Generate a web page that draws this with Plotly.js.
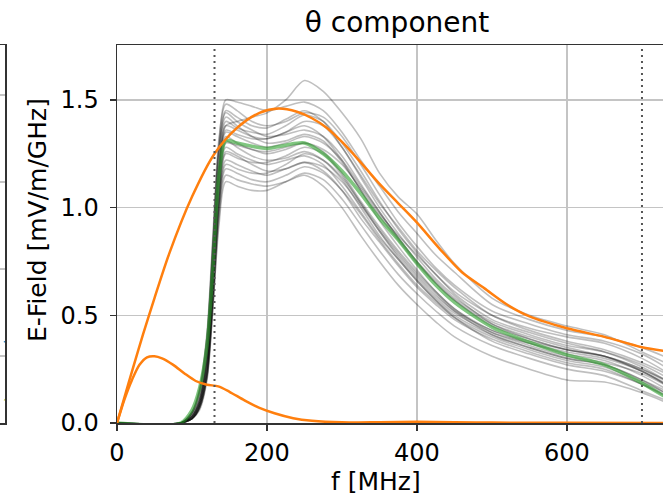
<!DOCTYPE html>
<html>
<head>
<meta charset="utf-8">
<script src="https://cdn.plot.ly/plotly-3.0.1.min.js"></script>
<style>
html, body { margin: 0; padding: 0; overflow: hidden; background: #fff; }
#chart { width: 700px; height: 500px; }
</style>
</head>
<body>
<div id="chart"></div>
<script>
// Frequency grid (MHz) for the individual spectra and their mean
const freqGrid = [0, 85, 100, 110, 120, 128, 136, 145, 160, 180, 200, 225, 250, 275, 300, 325, 350, 375, 400, 425, 450, 500, 550, 600, 650, 700, 750];

// Individual E-field spectra (gray)
const g01 = [0,0,0.05,0.15,0.40,0.85,1.30, 1.50,1.49,1.47,1.45,1.47,1.49,1.45,1.35,1.22,1.10,0.98,0.88,0.78,0.70,0.55,0.48,0.43,0.40,0.35,0.28];
const g02 = [0,0,0.03,0.10,0.30,0.70,1.15, 1.38,1.40,1.42,1.44,1.50,1.59,1.54,1.44,1.32,1.16,1.05,0.97,0.85,0.74,0.58,0.50,0.45,0.41,0.33,0.25];
const g03 = [0,0,0.04,0.12,0.35,0.80,1.25, 1.45,1.42,1.38,1.37,1.41,1.45,1.40,1.28,1.15,1.02,0.91,0.80,0.71,0.63,0.50,0.43,0.38,0.34,0.28,0.20];
const g04 = [0,0,0.03,0.10,0.30,0.72,1.18, 1.38,1.36,1.33,1.32,1.35,1.38,1.33,1.22,1.08,0.96,0.85,0.74,0.65,0.57,0.46,0.40,0.35,0.31,0.24,0.15];
const g05 = [0,0,0.02,0.08,0.25,0.65,1.10, 1.33,1.30,1.27,1.26,1.28,1.30,1.26,1.16,1.03,0.91,0.80,0.70,0.61,0.53,0.43,0.37,0.32,0.29,0.22,0.12];
const g06 = [0,0,0.02,0.07,0.22,0.60,1.05, 1.28,1.25,1.22,1.20,1.22,1.24,1.20,1.10,0.98,0.86,0.76,0.66,0.57,0.50,0.41,0.35,0.30,0.27,0.20,0.10];
const g07 = [0,0,0.03,0.09,0.27,0.62,1.02, 1.22,1.20,1.17,1.15,1.18,1.21,1.17,1.08,0.95,0.84,0.73,0.63,0.55,0.48,0.39,0.33,0.28,0.25,0.18,0.09];
const g08 = [0,0,0.02,0.07,0.22,0.55,0.92, 1.12,1.10,1.08,1.08,1.12,1.16,1.13,1.04,0.92,0.80,0.69,0.60,0.52,0.45,0.36,0.30,0.25,0.22,0.15,0.08];
const g09 = [0,0,0.04,0.12,0.33,0.76,1.18, 1.35,1.33,1.30,1.28,1.30,1.33,1.30,1.22,1.10,0.98,0.86,0.75,0.66,0.58,0.47,0.41,0.36,0.33,0.27,0.18];
const g10 = [0,0,0.05,0.14,0.38,0.82,1.26, 1.42,1.38,1.33,1.30,1.31,1.34,1.31,1.21,1.08,0.94,0.82,0.71,0.61,0.53,0.42,0.36,0.31,0.28,0.23,0.14];
const g11 = [0,0,0.03,0.09,0.28,0.68,1.10, 1.30,1.29,1.27,1.25,1.27,1.30,1.27,1.20,1.09,0.97,0.87,0.78,0.69,0.60,0.48,0.42,0.37,0.33,0.26,0.16];
const g12 = [0,0,0.02,0.08,0.24,0.60,1.02, 1.25,1.23,1.21,1.21,1.24,1.28,1.25,1.15,1.02,0.89,0.77,0.67,0.58,0.51,0.42,0.37,0.33,0.30,0.24,0.14];
const g13 = [0,0,0.05,0.16,0.42,0.88,1.32, 1.48,1.45,1.40,1.38,1.40,1.44,1.42,1.33,1.20,1.06,0.93,0.82,0.72,0.64,0.52,0.46,0.41,0.38,0.32,0.22];
const g14 = [0,0,0.02,0.07,0.21,0.56,0.98, 1.18,1.16,1.13,1.12,1.15,1.19,1.16,1.08,0.97,0.85,0.74,0.64,0.56,0.49,0.40,0.34,0.29,0.26,0.19,0.11];
const g15 = [0,0,0.03,0.10,0.31,0.73,1.17, 1.36,1.34,1.32,1.32,1.35,1.40,1.38,1.28,1.14,1.00,0.88,0.77,0.67,0.59,0.46,0.39,0.34,0.31,0.25,0.17];
const g16 = [0,0,0.03,0.09,0.26,0.66,1.10, 1.31,1.28,1.24,1.22,1.23,1.26,1.22,1.13,1.00,0.87,0.76,0.66,0.57,0.49,0.38,0.32,0.27,0.24,0.18,0.10];
const g17 = [0,0,0.04,0.11,0.32,0.76,1.20, 1.40,1.37,1.35,1.34,1.38,1.43,1.40,1.30,1.17,1.03,0.90,0.79,0.69,0.61,0.50,0.44,0.40,0.37,0.30,0.20];
const g18 = [0,0,0.02,0.08,0.24,0.62,1.05, 1.26,1.24,1.20,1.17,1.18,1.21,1.19,1.12,1.01,0.89,0.78,0.68,0.59,0.52,0.43,0.38,0.34,0.31,0.25,0.16];
const g19 = [0,0,0.05,0.15,0.40,0.84,1.28, 1.44,1.40,1.36,1.33,1.34,1.36,1.33,1.24,1.11,0.98,0.86,0.75,0.65,0.57,0.45,0.39,0.34,0.31,0.24,0.14];
const g20 = [0,0,0.02,0.07,0.22,0.58,1.00, 1.20,1.18,1.16,1.16,1.20,1.25,1.22,1.14,1.02,0.90,0.79,0.69,0.60,0.52,0.41,0.35,0.30,0.27,0.20,0.12];
const g21 = [0,0,0.02,0.06,0.20,0.54,0.95, 1.15,1.13,1.11,1.10,1.12,1.15,1.10,1.00,0.87,0.75,0.64,0.55,0.47,0.40,0.31,0.25,0.20,0.19,0.14,0.07];
const graySpectra = [g01,g02,g03,g04,g05,g06,g07,g08,g09,g10,g11,g12,g13,g14,g15,g16,g17,g18,g19,g20,g21];

// Mean spectrum (green)
const meanSpectrum = [0,0,0.06,0.16,0.36,0.72,1.15, 1.31,1.30,1.285,1.275,1.29,1.30,1.25,1.17,1.065,0.95,0.85,0.74,0.64,0.56,0.445,0.375,0.316,0.27,0.185,0.08];

// Orange reference curves
const orangeAX = [0,10,20,35,50,70,100,130,160,190,215,240,260,280,300,320,350,375,400,430,460,490,520,550,600,650,700,750];
const orangeAY = [0,0.12,0.24,0.415,0.58,0.79,1.05,1.25,1.37,1.44,1.46,1.445,1.415,1.37,1.305,1.23,1.11,1.02,0.93,0.81,0.70,0.625,0.55,0.495,0.44,0.40,0.352,0.325];
const orangeBX = [0,10,20,30,40,50,60,75,90,105,120,135,150,170,190,210,235,260,300,350,400,450,500,600,750];
const orangeBY = [0,0.11,0.20,0.27,0.305,0.31,0.30,0.27,0.23,0.195,0.178,0.17,0.145,0.105,0.07,0.045,0.022,0.01,0.003,0.004,0.006,0.004,0.002,0.001,0];

// Band limits (dotted vertical lines)
const bandLimits = [130, 700];

// Visible edge of neighbouring panel
const leftPanelX = [650, 700, 750];
const leftBlueY = [0.17, 0.165, 0.161];
const leftOliveY = [-0.50, -0.505, -0.506];

// Axis ticks
const xTicks = [0, 200, 400, 600];
const yTicks = [0, 0.5, 1.0, 1.5];

const traces = [];
graySpectra.forEach(g => traces.push({
  x: freqGrid, y: g, type: 'scatter', mode: 'lines',
  line: {color: 'rgba(0,0,0,0.25)', width: 1.6, shape: 'spline', smoothing: 0.8},
  hoverinfo: 'skip', showlegend: false
}));
traces.push({
  x: freqGrid, y: meanSpectrum, type: 'scatter', mode: 'lines',
  line: {color: 'rgba(44,160,44,0.6)', width: 3.5, shape: 'spline', smoothing: 0.8},
  showlegend: false
});
traces.push({
  x: orangeAX, y: orangeAY, type: 'scatter', mode: 'lines',
  line: {color: '#ff7f0e', width: 2.5, shape: 'spline', smoothing: 0.8}, showlegend: false
});
traces.push({
  x: orangeBX, y: orangeBY, type: 'scatter', mode: 'lines',
  line: {color: '#ff7f0e', width: 2.5, shape: 'spline', smoothing: 0.8}, showlegend: false
});
traces.push({
  x: leftPanelX, y: leftBlueY, xaxis: 'x2', yaxis: 'y2', type: 'scatter', mode: 'lines',
  line: {color: '#1f77b4', width: 2}, showlegend: false
});
traces.push({
  x: leftPanelX, y: leftOliveY, xaxis: 'x2', yaxis: 'y2', type: 'scatter', mode: 'lines',
  line: {color: '#bcbd22', width: 2}, showlegend: false
});

const W = 677; // paper width in px (margin.l = 0)
const axisCommon = {
  showgrid: true, gridcolor: '#c4c4c4', gridwidth: 1.5,
  showline: true, linecolor: '#333', linewidth: 1.5, mirror: true,
  ticks: 'outside', ticklen: 6, tickwidth: 1.5, tickcolor: '#333',
  tickfont: {size: 24, color: '#000'}, zeroline: false
};

const layout = {
  width: 700, height: 500,
  margin: {l: 0, r: 23, t: 45, b: 77, pad: 0},
  paper_bgcolor: '#fff', plot_bgcolor: '#fff',
  font: {family: 'DejaVu Sans', color: '#000'},
  showlegend: false,
  title: {text: 'θ component', font: {size: 28, color: '#000'},
          xref: 'paper', x: 397 / W, xanchor: 'center',
          yref: 'container', y: 1 - 22 / 500, yanchor: 'middle'},
  xaxis: Object.assign({}, axisCommon, {domain: [117 / W, 1], range: [0, 746.7], tickvals: xTicks, anchor: 'y', ticklabelstandoff: 2}),
  yaxis: Object.assign({}, axisCommon, {domain: [0, 1], range: [0, 1.755], tickvals: yTicks, tickformat: '.1f', anchor: 'x', mirror: false, ticklabelstandoff: 6}),
  xaxis2: {domain: [0, 5 / W], range: [0, 750], anchor: 'y2', showline: true, mirror: true, linecolor: '#333', linewidth: 1.5,
           showgrid: false, showticklabels: false, ticks: '', zeroline: false},
  yaxis2: {domain: [0, 1], range: [-0.77, 3.575], anchor: 'x2', side: 'right', showline: true, linecolor: '#333', linewidth: 1.5,
           showgrid: true, gridcolor: '#c4c4c4', gridwidth: 1.5, dtick: 1, tick0: 0,
           showticklabels: false, ticks: '', zeroline: false},
  shapes: bandLimits.map(f => ({
    type: 'line', xref: 'x', yref: 'paper', x0: f, x1: f, y0: 0, y1: 1,
    line: {color: '#555', width: 2, dash: '2px,4px'}
  })),
  annotations: [
    {text: 'E-Field [mV/m/GHz]', xref: 'paper', yref: 'paper', x: 38 / W, y: (423 - 220) / 378,
     xanchor: 'center', yanchor: 'middle', textangle: -90, showarrow: false, font: {size: 25, color: '#000'}},
    {text: 'f [MHz]', xref: 'paper', yref: 'paper', x: 376 / W, y: (423 - 481) / 378,
     xanchor: 'center', yanchor: 'middle', showarrow: false, font: {size: 25, color: '#000'}}
  ]
};

Plotly.newPlot('chart', traces, layout, {staticPlot: true, displayModeBar: false});
</script>
</body>
</html>
